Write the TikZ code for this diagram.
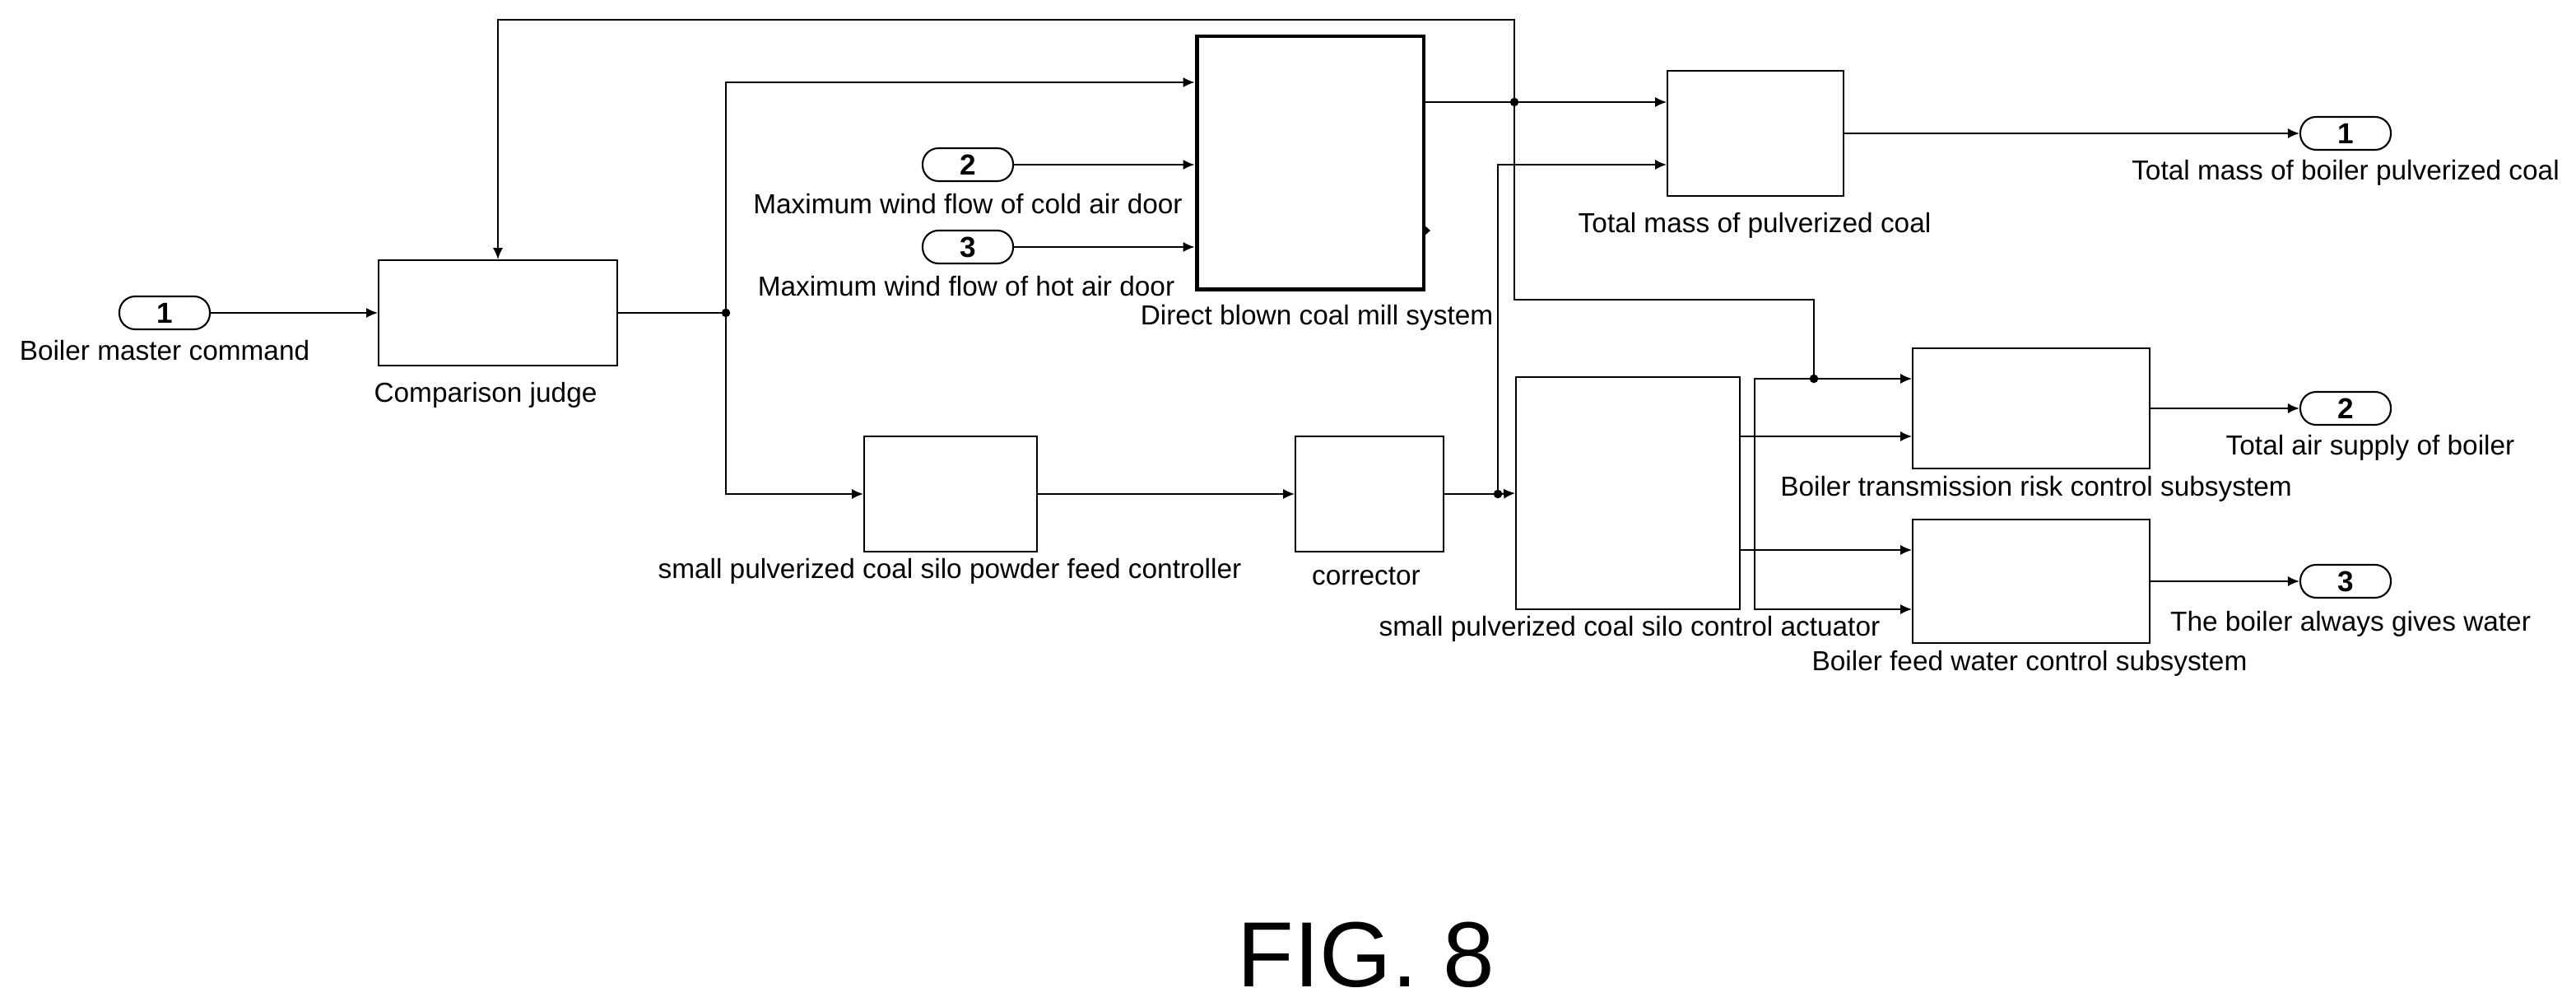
\documentclass[tikz,border=0pt]{standalone}
\usepackage{fontspec}
\setmainfont{Liberation Sans}
\usetikzlibrary{arrows.meta,calc}
\begin{document}
\begin{tikzpicture}[x=0.02cm,y=-0.02cm,
  box/.style={draw,line width=0.5pt,inner sep=0pt},
  port/.style={draw,line width=0.6pt,rounded corners=5.5pt,minimum width=1.1cm,minimum height=0.4cm,inner sep=0pt,font=\bfseries\fontsize{10}{10}\selectfont},
  lab/.style={font=\fontsize{9.5}{10}\selectfont,inner sep=0pt},
  arr/.style={-{Latex[length=4pt,width=3.5pt]}},
  line width=0.6pt,
  dot/.style={circle,fill,inner sep=0pt,minimum size=3pt}]
\useasboundingbox (0,0) rectangle (1565,608.5);
% blocks
\node[port] (in1) at (100,190) {1};
\node[port] (in2) at (588,100) {2};
\node[port] (in3) at (588,150) {3};
\node[box,minimum width=2.9cm,minimum height=1.28cm] (cj) at (302.5,190) {};
\node[box,line width=1.4pt,minimum width=2.76cm,minimum height=3.08cm] (mill) at (796,99) {};
\node[box,minimum width=2.1cm,minimum height=1.4cm] (silo) at (577.5,300) {};
\node[box,minimum width=1.8cm,minimum height=1.4cm] (corr) at (832,300) {};
\node[box,minimum width=2.72cm,minimum height=2.82cm] (act) at (989,299.5) {};
\node[box,minimum width=2.14cm,minimum height=1.52cm] (tm) at (1066.5,81) {};
\node[box,minimum width=2.88cm,minimum height=1.46cm] (tr) at (1234,248) {};
\node[box,minimum width=2.88cm,minimum height=1.5cm] (fw) at (1234,353) {};
\node[port] (out1) at (1425,81) {1};
\node[port] (out2) at (1425,248) {2};
\node[port] (out3) at (1425,353) {3};
% labels
\node[lab] (l1) at (100,213) {Boiler master command};
\node[lab] (l2) at (588,124) {Maximum wind flow of cold air door};
\node[lab] (l3) at (587,174) {Maximum wind flow of hot air door};
\node[lab] (l4) at (295,240) {Comparison judge};
\node[lab] (l5) at (800,193) {Direct blown coal mill system};
\node[lab] (l6) at (1066,137) {Total mass of pulverized coal};
\node[lab] (l7) at (1425,105) {Total mass of boiler pulverized coal};
\node[lab] (l8) at (577,347) {small pulverized coal silo powder feed controller};
\node[lab] (l9) at (830,350) {corrector};
\node[lab] (l10) at (990,382) {small pulverized coal silo control actuator};
\node[lab] (l11) at (1237,297) {Boiler transmission risk control subsystem};
\node[lab] (l12) at (1233,403) {Boiler feed water control subsystem};
\node[lab] (l13) at (1440,272) {Total air supply of boiler};
\node[lab] (l14) at (1428,379) {The boiler always gives water};
\node[font=\fontsize{32}{32}\selectfont,inner sep=0pt] (fig) at (830,580) {FIG. 8};
% coordinates
\coordinate (j1) at (441,190);
\coordinate (ya) at (0,50);
\coordinate (yb) at (0,100);
\coordinate (bm) at (920,62);
\coordinate (ft) at (920,12);
\coordinate (fd) at (920,182);
\coordinate (jt) at (1102,230);
\coordinate (k1) at (1066,230);
\coordinate (k2) at (1066,370);
\coordinate (jc) at (910,300);
\coordinate (yc) at (0,265);
\coordinate (yd) at (0,334);
\coordinate (mo) at (865,140);
% connectors
\draw[arr] (in1) -- (cj);
\draw (cj.east |- j1) -- (j1);
\draw[arr] (j1) |- (mill.west |- ya);
\draw[arr] (j1) |- (silo.west);
\draw[arr] (in2) -- (mill.west |- yb);
\draw[arr] (in3) -- (mill.west |- in3);
\draw (mill.east |- bm) -- (bm);
\draw[arr] (bm) -- (tm.west |- bm);
\draw[arr] (bm) -- (ft) -| (cj.north);
\draw (bm) -- (fd) -| (jt);
\draw[arr] (jt) -- (tr.west |- jt);
\draw[arr] (jt) -- (k1) -- (k2) -- (fw.west |- k2);
\draw[arr] (silo) -- (corr);
\draw (corr.east) -- (jc);
\draw[arr] (jc) -- (act.west);
\draw[arr] (jc) |- (tm.west |- yb);
\draw[arr] (act.east |- yc) -- (tr.west |- yc);
\draw[arr] (act.east |- yd) -- (fw.west |- yd);
\draw[arr] (tm) -- (out1);
\draw[arr] (tr) -- (out2);
\draw[arr] (fw) -- (out3);
\fill (mo) -- ++(0,-3.5) -- ++(4,3.5) -- ++(-4,3.5) -- cycle;
\foreach \p in {j1,bm,jt,jc} \node[dot] at (\p) {};
\end{tikzpicture}
\end{document}
